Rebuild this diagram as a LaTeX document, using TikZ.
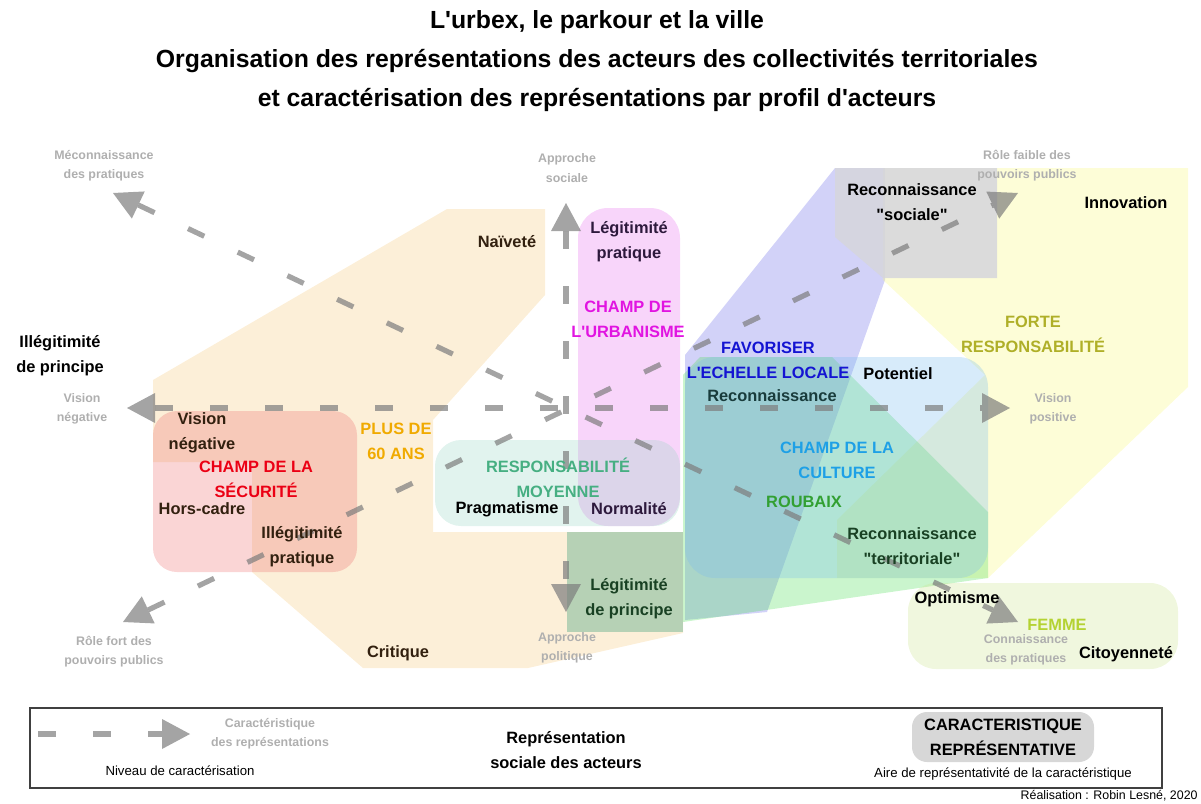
\documentclass[tikz,border=0pt]{standalone}
\usepackage{fontspec}
\setmainfont{Liberation Sans}[Ligatures=TeXOff]
\usepackage{xcolor}
\definecolor{mbeige}{RGB}{245,202,125}
\definecolor{mred}{RGB}{238,115,115}
\definecolor{mrose}{RGB}{232,115,238}
\definecolor{mmoy}{RGB}{155,215,198}
\definecolor{mprin}{RGB}{20,140,100}
\definecolor{mlav}{RGB}{105,105,232}
\definecolor{mjaune}{RGB}{248,248,122}
\definecolor{mvert}{RGB}{78,222,88}
\definecolor{mbleu}{RGB}{122,188,238}
\definecolor{mgris}{RGB}{214,214,220}
\definecolor{mfem}{RGB}{205,228,145}
\definecolor{maxe}{RGB}{125,125,125}
\definecolor{mlabel}{RGB}{175,175,175}
\definecolor{mlegende}{RGB}{215,215,215}
\definecolor{tsec}{RGB}{235,0,20}
\definecolor{turb}{RGB}{225,20,225}
\definecolor{tfav}{RGB}{20,20,210}
\definecolor{tplus}{RGB}{240,170,0}
\definecolor{tmoy}{RGB}{70,175,130}
\definecolor{tcul}{RGB}{30,160,230}
\definecolor{trou}{RGB}{50,160,50}
\definecolor{tfor}{RGB}{175,175,40}
\definecolor{tfem}{RGB}{180,210,50}
\definecolor{tbrun}{RGB}{50,32,15}
\definecolor{tviolet}{RGB}{45,25,60}
\definecolor{tteal}{RGB}{25,60,60}
\definecolor{tvertf}{RGB}{25,65,35}
\usepackage{tikz}
\usetikzlibrary{arrows.meta}

\begin{document}
\begin{tikzpicture}[x=0.5pt, y=-0.5pt,
    >={Triangle[length=14pt,width=15pt,line width=0pt]},
    lab/.style={align=center, inner sep=0pt, font=\fontsize{8.2}{12.4}\selectfont\bfseries},
    gris/.style={align=center, inner sep=0pt, text=mlabel, font=\fontsize{6.2}{9.6}\selectfont\bfseries},
    titre/.style={align=center, inner sep=0pt, font=\fontsize{12.4}{19.5}\selectfont\bfseries},
    petit/.style={inner sep=0pt, font=\fontsize{6.6}{8}\selectfont},
    zone/.style={fill=#1, fill opacity=0.3},
    axe/.style={draw=maxe, opacity=0.7, line width=2.6pt, dash pattern=on 9pt off 18.5pt}]
    \useasboundingbox (0,0) rectangle (1201,804);

    \node[titre] (titre) at (597,61) {L'urbex, le parkour et la ville\\Organisation des représentations des acteurs des collectivités territoriales\\et caractérisation des représentations par profil d'acteurs};

    \fill[zone=mbeige] (153,380) -- (447,209) -- (545,209) -- (545,295) -- (433,420) -- (433,532) -- (683,532) -- (683,633) -- (528,668) -- (363,668) -- (252,572) -- (252,462) -- (153,462) -- cycle;
    \fill[zone=mred, rounded corners=12pt] (153,411) rectangle (357,572);
    \fill[zone=mrose, rounded corners=15pt] (578,208) rectangle (680,526);
    \fill[zone=mmoy, rounded corners=13pt] (435,440) rectangle (680,526);
    \fill[zone=mprin] (567,532) rectangle (683,632);
    \fill[zone=mlav] (835,168) -- (885,168) -- (885,280) -- (767,612) -- (685,620) -- (685,355) -- cycle;
    \fill[zone=mjaune] (883,168) -- (1188,168) -- (1188,387) -- (988,578) -- (837,578) -- (837,520) -- (985,375) -- (883,280) -- cycle;
    \fill[zone=mvert] (700,357) -- (832,357) -- (988,512) -- (988,578) -- (683,622) -- (683,375) -- cycle;
    \fill[zone=mbleu, rounded corners=15pt] (685,357) rectangle (988,578);
    \fill[mgris, fill opacity=0.85] (835,168) -- (997,168) -- (997,278) -- (883,278) -- (835,237) -- cycle;
    \fill[zone=mfem, rounded corners=14pt] (908,583) rectangle (1178,669);

    \coordinate (gauche) at (127,408);
    \coordinate (droite) at (1010,408);
    \coordinate (haut) at (566,203);
    \coordinate (bas) at (566,612);
    \coordinate (hg) at (113,193);
    \coordinate (bd) at (1018,622);
    \coordinate (bg) at (123,622);
    \coordinate (hd) at (1018,193);
    \draw[axe, <->] (gauche) -- (droite);
    \draw[axe, <->] (haut) -- (bas);
    \draw[axe, <->] (hg) -- (bd);
    \draw[axe, <->] (bg) -- (hd);

    \node[gris] (lmecon) at (104,166) {Méconnaissance\\des pratiques};
    \node[gris] (lsociale) at (567,168) {Approche\\sociale};
    \node[gris] (lfaible) at (1027,166) {Rôle faible des\\pouvoirs publics};
    \node[gris] (lneg) at (82,409) {Vision\\négative};
    \node[gris] (lpos) at (1053,409) {Vision\\positive};
    \node[gris] (lfort) at (114,652) {Rôle fort des\\pouvoirs publics};
    \node[gris] (lpolit) at (567,648) {Approche\\politique};
    \node[gris] (lconn) at (1026,650) {Connaissance\\des pratiques};

    \node[lab, text=tbrun] (naivete) at (507,242) {Naïveté};
    \node[lab, text=tviolet] (legpra) at (629,242) {Légitimité\\pratique};
    \node[lab, text=turb] (urba) at (628,319) {CHAMP DE\\L'URBANISME};
    \node[lab] (recsoc) at (912,202) {Reconnaissance\\"sociale"};
    \node[lab] (innov) at (1126,203) {Innovation};
    \node[lab, text=tfor] (forte) at (1033,334) {FORTE\\RESPONSABILITÉ};
    \node[lab] (illprin) at (60,356) {Illégitimité\\de principe};
    \node[lab, text=tfav] (favor) at (768,360) {FAVORISER\\L'ECHELLE LOCALE};
    \node[lab] (potent) at (898,374) {Potentiel};
    \node[lab, text=tteal] (recon) at (772,396) {Reconnaissance};
    \node[lab, text=tbrun] (visneg) at (202,433) {Vision\\négative};
    \node[lab, text=tsec] (secu) at (256,479) {CHAMP DE LA\\SÉCURITÉ};
    \node[lab, text=tbrun] (horscadre) at (202,509) {Hors-cadre};
    \node[lab, text=tbrun] (illpra) at (302,547) {Illégitimité\\pratique};
    \node[lab, text=tplus] (plus) at (396,441) {PLUS DE\\60 ANS};
    \node[lab, text=tmoy] (moy) at (558,478) {RESPONSABILITÉ\\MOYENNE};
    \node[lab] (pragma) at (507,509) {Pragmatisme};
    \node[lab, text=tviolet] (normal) at (629,509) {Normalité};
    \node[lab, text=tvertf] (legprin) at (629,599) {Légitimité\\de principe};
    \node[lab, text=tcul] (culture) at (837,460) {CHAMP DE LA\\CULTURE};
    \node[lab, text=trou] (roubaix) at (804,502) {ROUBAIX};
    \node[lab, text=tvertf] (recterr) at (912,546) {Reconnaissance\\"territoriale"};
    \node[lab] (optim) at (957,599) {Optimisme};
    \node[lab, text=tfem] (femme) at (1057,625) {FEMME};
    \node[lab] (citoy) at (1126,654) {Citoyenneté};
    \node[lab, text=tbrun] (critique) at (398,653) {Critique};

    \draw[line width=0.8pt, black!75] (30,708) rectangle (1162,788);
    \coordinate (ldebut) at (38,734);
    \coordinate (lfin) at (190,734);
    \draw[axe, ->] (ldebut) -- (lfin);
    \node[gris] (legcarac) at (270,734) {Caractéristique\\des représentations};
    \node[petit] (legniveau) at (180,771) {Niveau de caractérisation};
    \node[lab] (legrep) at (566,750) {Représentation\\sociale des acteurs};
    \node[lab, fill=mlegende, rounded corners=7.5pt, minimum width=91pt, minimum height=25pt] (legbox) at (1003,737) {CARACTERISTIQUE\\REPRÉSENTATIVE};
    \node[petit] (legaire) at (1003,774) {Aire de représentativité de la caractéristique};
    \node[petit, anchor=east, font=\fontsize{6.2}{8}\selectfont] (realis) at (1198,796) {Réalisation : Robin Lesné, 2020};
\end{tikzpicture}
\end{document}
